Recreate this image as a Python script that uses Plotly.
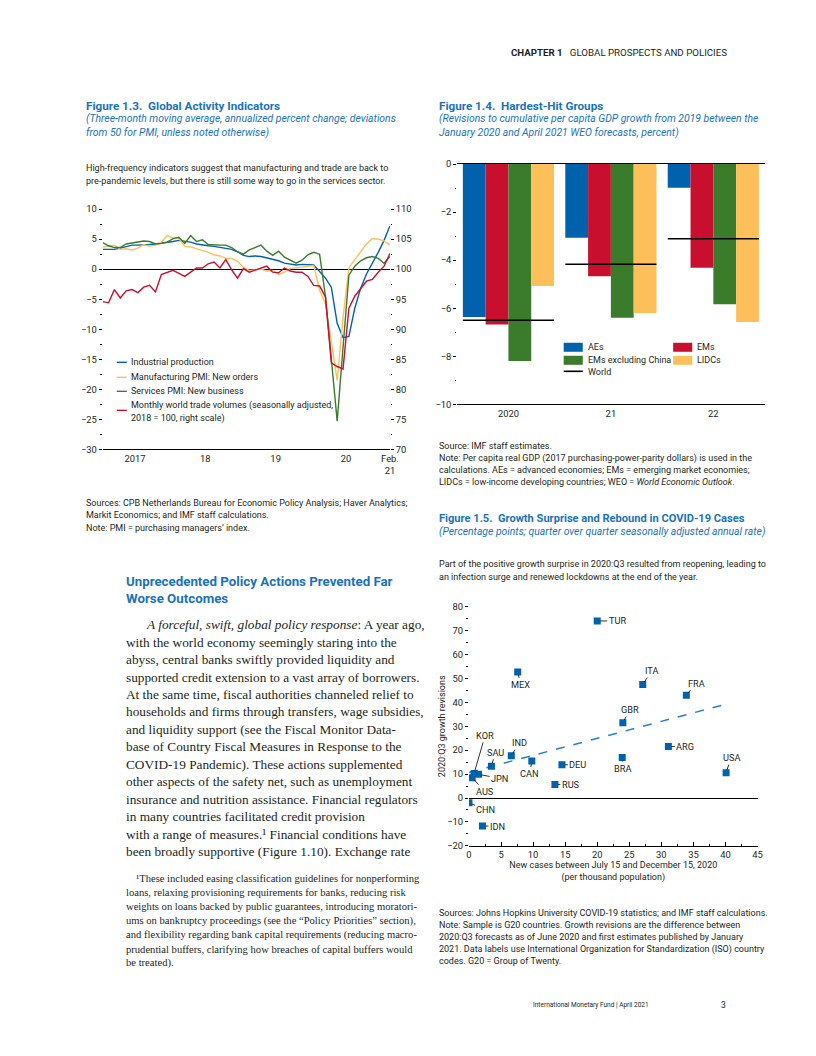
import plotly.graph_objects as go

# Page = figure + 8px body margin (816x1056 window). The photographed picture maps
# page coordinates as picture = 0.981*(page+8) horizontally and 0.985*(page+8)
# vertically, so reference pixel positions are converted back to page coordinates.
OFF = 8
W, H = 816 - 2 * OFF, 1056 - 2 * OFF
SXF, SYF = 816 / 832, 1056 / 1072


def X(px):
    page = px / SXF - OFF
    return (page - OFF) / W


def Y(py):
    py = py + 1.5 - 3.0 * (py - 53) / 951
    page = py / SYF - OFF
    return 1 - (page - OFF) / H


SANS = "Roboto, Liberation Sans, sans-serif"
SERIF = "Liberation Serif, DejaVu Serif, serif"
BLUE = "#0062AD"
RED = "#C8102E"
GREEN = "#3A7B2C"
YELLOW = "#FDBF5A"
TITLE = "#1A73BA"
INK = "#231F20"

# ---------------- Figure 1.3 data (monthly, Jan 2017 .. Feb 2021) ----------------
months = list(range(50))
industrial = [3.3, 3.3, 3.3, 3.5, 3.8, 4.0, 4.0, 4.0, 4.1, 4.2,
              4.3, 4.4, 4.6, 4.8, 4.7, 4.5, 4.2, 4.0, 3.9, 3.8,
              3.6, 3.5, 3.3, 2.9, 2.3, 2.1, 2.2, 2.1, 1.9, 1.7,
              1.4, 1.0, 0.8, 0.7, 0.8, 0.8, 0.7, -0.4, -1.5, -3.0,
              -9.0, -11.4, -11.2, -6.5, -3.2, -0.8, 0.9, 2.8, 4.8, 7.2]
mfg_pmi = [3.7, 3.9, 4.0, 3.3, 3.4, 3.2, 3.5, 4.1, 3.8, 4.0,
           4.5, 5.6, 5.2, 5.1, 3.8, 3.7, 3.4, 3.2, 2.8, 2.4,
           2.2, 1.8, 1.8, 1.3, 0.3, -0.2, -0.1, 0.0, -0.3, -0.2,
           -0.9, -0.5, 0.1, 0.2, 0.4, 0.4, 0.6, -3.5, -5.8, -12.0,
           -18.5, -8.0, 0.2, 1.6, 2.8, 4.2, 5.1, 5.0, 4.7, 4.0]
services_pmi = [4.4, 3.9, 3.6, 3.6, 4.2, 4.4, 4.5, 4.7, 4.6, 4.2,
                4.3, 4.5, 5.1, 5.3, 4.3, 5.6, 4.6, 4.9, 4.1, 4.0,
                4.0, 4.0, 3.6, 2.9, 2.5, 3.2, 3.6, 4.0, 3.0, 2.3,
                3.0, 2.0, 1.5, 1.0, 1.5, 2.4, 2.8, 2.5, -4.5, -15.6,
                -25.3, -13.0, -1.0, 0.5, 1.4, 1.9, 2.1, 1.8, 1.0, 2.1]
trade = [94.6, 94.4, 96.6, 95.2, 96.4, 96.6, 96.1, 97.0, 97.3, 96.2,
         99.1, 99.4, 99.8, 99.3, 98.8, 99.5, 100.2, 100.2, 100.9, 101.2,
         100.2, 101.6, 99.9, 98.5, 100.1, 99.5, 99.8, 100.2, 100.5, 99.5,
         99.4, 100.2, 99.7, 99.5, 99.5, 98.8, 97.3, 97.2, 95.4, 84.4,
         83.8, 83.4, 93.5, 95.5, 96.8, 98.0, 98.3, 99.5, 100.5, 102.6]
year_labels = ["2017", "18", "19", "20", "Feb.<br>21"]
year_label_months = [5.5, 17.5, 29.5, 41.5, 49]
year_tick_months = [12, 24, 36, 49]
series13_names = ["Industrial production", "Manufacturing PMI: New orders",
                  "Services PMI: New business",
                  "Monthly world trade volumes (seasonally adjusted,<br>2018 = 100, right scale)"]

# ---------------- Figure 1.4 data ----------------
groups = ["2020", "21", "22"]
aes = [-6.36, -3.07, -0.99]
ems = [-6.68, -4.67, -4.32]
ems_ex_china = [-8.2, -6.4, -5.83]
lidcs = [-5.07, -6.2, -6.57]
world = [-6.5, -4.17, -3.11]

# ---------------- Figure 1.5 data ----------------
countries = ["TUR", "MEX", "ITA", "FRA", "GBR", "ARG", "BRA", "USA", "DEU",
             "RUS", "CAN", "IND", "SAU", "KOR", "JPN", "AUS", "CHN", "IDN"]
new_cases = [20.0, 7.6, 27.1, 33.9, 24.0, 31.1, 23.9, 40.1, 14.5,
             13.4, 9.8, 6.6, 3.5, 0.8, 1.5, 0.5, 0.0, 2.1]
growth_rev = [74.0, 52.7, 47.4, 43.0, 31.5, 21.5, 16.9, 10.6, 13.9,
              5.7, 15.5, 17.7, 13.3, 10.3, 9.9, 8.5, -2.0, -11.7]
trend_x = [0.0, 40.2]
trend_y = [10.7, 39.3]

fig = go.Figure()

# ---- Figure 1.3 traces
fig.add_trace(go.Scatter(x=months, y=industrial, mode="lines", line=dict(color=BLUE, width=1.4),
                         xaxis="x", yaxis="y", name=series13_names[0], showlegend=False))
fig.add_trace(go.Scatter(x=months, y=mfg_pmi, mode="lines", line=dict(color=YELLOW, width=1.4),
                         xaxis="x", yaxis="y", name=series13_names[1], showlegend=False))
fig.add_trace(go.Scatter(x=months, y=services_pmi, mode="lines", line=dict(color=GREEN, width=1.4),
                         xaxis="x", yaxis="y", name=series13_names[2], showlegend=False))
fig.add_trace(go.Scatter(x=months, y=trade, mode="lines", line=dict(color=RED, width=1.4),
                         xaxis="x", yaxis="y2", name=series13_names[3], showlegend=False))

# ---- Figure 1.4 traces
gidx = list(range(len(groups)))
for vals, col, nm in [(aes, BLUE, "AEs"), (ems, RED, "EMs"),
                      (ems_ex_china, GREEN, "EMs excluding China"), (lidcs, YELLOW, "LIDCs")]:
    fig.add_trace(go.Bar(x=gidx, y=vals, marker=dict(color=col, line=dict(width=0)),
                         xaxis="x3", yaxis="y3", name=nm, showlegend=False))
wx, wy = [], []
half = 0.445
for i, v in zip(gidx, world):
    wx += [i - half, i + half, None]
    wy += [v, v, None]
fig.add_trace(go.Scatter(x=wx, y=wy, mode="lines", line=dict(color="black", width=1.6),
                         xaxis="x3", yaxis="y3", name="World", showlegend=False))

# ---- Figure 1.5 traces
fig.add_trace(go.Scatter(x=trend_x, y=trend_y, mode="lines",
                         line=dict(color="#2A7FCC", width=1.5, dash="dash"),
                         xaxis="x5", yaxis="y5", showlegend=False))
fig.add_trace(go.Scatter(x=new_cases, y=growth_rev, mode="markers",
                         marker=dict(symbol="square", size=7, color=BLUE),
                         xaxis="x5", yaxis="y5", text=countries, showlegend=False))

tickfont = dict(family=SANS, size=9.4, color=INK)
CH = 9.0  # chart text size

fig.update_layout(
    width=W, height=H, margin=dict(l=0, r=0, t=0, b=0),
    paper_bgcolor="white", plot_bgcolor="rgba(0,0,0,0)",
    font=dict(family=SANS, size=CH, color=INK),
    barmode="group", bargap=0.11, bargroupgap=0,
    # Figure 1.3 axes
    xaxis=dict(domain=[X(107), X(393)], range=[0, 49], anchor="y",
               tickmode="array", tickvals=year_label_months, ticktext=year_labels,
               ticks="", showline=True, linecolor="black", linewidth=1,
               showgrid=False, zeroline=False, tickfont=tickfont),
    xaxis2=dict(domain=[X(107), X(393)], range=[0, 49], anchor="y", overlaying="x",
                tickmode="array", tickvals=year_tick_months, ticks="inside", ticklen=5,
                tickcolor="black", showticklabels=False, showline=False, showgrid=False,
                zeroline=False),
    yaxis=dict(domain=[Y(449), Y(209)], range=[-30, 10], anchor="x",
               tick0=0, dtick=5, ticks="outside", ticklen=3, tickcolor="black",
               minor=dict(ticks="outside", ticklen=1.5, dtick=2.5, tick0=0, tickcolor="black"),
               showgrid=False, zeroline=True, zerolinecolor="black", zerolinewidth=1.3,
               showline=False, tickfont=tickfont),
    yaxis2=dict(domain=[Y(449), Y(209)], range=[70, 110], anchor="x", overlaying="y",
                side="right", tick0=70, dtick=5, ticks="outside", ticklen=3, tickcolor="black",
                minor=dict(ticks="outside", ticklen=1.5, dtick=2.5, tick0=70, tickcolor="black"),
                showgrid=False, zeroline=False, showline=False, tickfont=tickfont),
    # Figure 1.4 axes
    xaxis3=dict(domain=[X(460), X(766)], range=[-0.5, 2.5], anchor="y3",
                tickmode="array", tickvals=gidx, ticktext=groups, ticks="",
                showline=True, mirror=True, linecolor="black", linewidth=1.3,
                showgrid=False, zeroline=False, tickfont=tickfont),
    xaxis4=dict(domain=[X(460), X(766)], range=[-0.5, 2.5], anchor="y3", overlaying="x3",
                tickmode="array", tickvals=[0.5, 1.5], ticks="inside", ticklen=5,
                tickcolor="black", showticklabels=False, showline=False, showgrid=False,
                zeroline=False),
    yaxis3=dict(domain=[Y(404), Y(164)], range=[-10, 0], anchor="x3",
                tick0=0, dtick=2, ticks="outside", ticklen=3, tickcolor="black",
                minor=dict(ticks="outside", ticklen=1.5, dtick=1, tick0=0, tickcolor="black"),
                showgrid=False, zeroline=False, showline=False, tickfont=tickfont),
    yaxis4=dict(domain=[Y(404), Y(164)], range=[-10, 0], anchor="x3", overlaying="y3",
                side="right", tick0=0, dtick=2, ticks="outside", ticklen=3, tickcolor="black",
                minor=dict(ticks="outside", ticklen=1.5, dtick=1, tick0=0, tickcolor="black"),
                showticklabels=False, showgrid=False, zeroline=False, showline=False),
    # Figure 1.5 axes
    xaxis5=dict(domain=[X(471.7), X(759)], range=[0, 45], anchor="y5",
                tick0=0, dtick=5, ticks="inside", ticklen=4, tickcolor="black",
                minor=dict(ticks="inside", ticklen=2, dtick=2.5, tick0=0, tickcolor="black"),
                showline=True, linecolor="black", linewidth=1, showgrid=False, zeroline=False,
                tickfont=tickfont,
                title=dict(text="New cases between July 15 and December 15, 2020<br>(per thousand population)",
                           font=dict(family=SANS, size=CH, color=INK), standoff=2)),
    yaxis5=dict(domain=[Y(845), Y(606)], range=[-20, 80], anchor="x5",
                tick0=0, dtick=10, ticks="outside", ticklen=3, tickcolor="black",
                minor=dict(ticks="outside", ticklen=1.5, dtick=5, tick0=0, tickcolor="black"),
                showgrid=False, zeroline=True, zerolinecolor="black", zerolinewidth=1.2,
                showline=False, tickfont=tickfont,
                title=dict(text="2020:Q3 growth revisions",
                           font=dict(family=SANS, size=CH, color=INK), standoff=0)),
    yaxis6=dict(domain=[Y(845), Y(606)], range=[-20, 80], anchor="x5", overlaying="y5",
                side="right", tick0=0, dtick=10, ticks="outside", ticklen=4, tickcolor="black",
                minor=dict(ticks="outside", ticklen=2, dtick=5, tick0=0, tickcolor="black"),
                showticklabels=False, showgrid=False, zeroline=False, showline=False),
)

ann = []
shapes = []


def txt(px, py, text, size=CH, color=INK, family=SANS, xanchor="left"):
    ann.append(dict(x=X(px), y=Y(py), xref="paper", yref="paper", text=text,
                    showarrow=False, xanchor=xanchor, yanchor="middle",
                    font=dict(family=family, size=size, color=color)))


TS = 11.7   # figure title size
SS = 10.4   # subtitle size

# Header & footer
txt(731, 53, "<b>CHAPTER 1</b>   GLOBAL PROSPECTS AND POLICIES", size=9.7, xanchor="right")
txt(533, 1004, "International Monetary Fund | April 2021", size=6.5)
txt(730, 1004, "3", size=8.5, xanchor="right")

# Figure 1.3 text
txt(88, 106, "<b>Figure 1.3.  Global Activity Indicators</b>", size=TS, color=TITLE)
txt(88, 119, "<i>(Three-month moving average, annualized percent change; deviations</i>", size=SS, color=TITLE)
txt(88, 132, "<i>from 50 for PMI, unless noted otherwise)</i>", size=SS, color=TITLE)
txt(88, 168, "High-frequency indicators suggest that manufacturing and trade are back to", size=CH)
txt(88, 181, "pre-pandemic levels, but there is still some way to go in the services sector.", size=CH)
txt(88, 503, "Sources: CPB Netherlands Bureau for Economic Policy Analysis; Haver Analytics;", size=CH)
txt(88, 515, "Markit Economics; and IMF staff calculations.", size=CH)
txt(88, 527, "Note: PMI = purchasing managers’ index.", size=CH)

# Figure 1.3 legend (manual)
leg13 = [(362, BLUE, series13_names[0]), (377, YELLOW, series13_names[1]),
         (391, GREEN, series13_names[2])]
for py, col, nm in leg13:
    shapes.append(dict(type="line", xref="paper", yref="paper", x0=X(121), x1=X(131),
                       y0=Y(py), y1=Y(py), line=dict(color=col, width=1.4)))
    txt(133, py, nm, size=CH)
shapes.append(dict(type="line", xref="paper", yref="paper", x0=X(121), x1=X(131),
                   y0=Y(410), y1=Y(410), line=dict(color=RED, width=1.4)))
txt(133, 405, "Monthly world trade volumes (seasonally adjusted,", size=CH)
txt(133, 418, "2018 = 100, right scale)", size=CH)

# Section heading and body
txt(128, 581, "<b>Unprecedented Policy Actions Prevented Far</b>", size=13.3, color=TITLE)
txt(128, 598, "<b>Worse Outcomes</b>", size=13.3, color=TITLE)
body = [
    "<i>A forceful, swift, global policy response</i>: A year ago,",
    "with the world economy seemingly staring into the",
    "abyss, central banks swiftly provided liquidity and",
    "supported credit extension to a vast array of borrowers.",
    "At the same time, fiscal authorities channeled relief to",
    "households and firms through transfers, wage subsidies,",
    "and liquidity support (see the Fiscal Monitor Data-",
    "base of Country Fiscal Measures in Response to the",
    "COVID-19 Pandemic). These actions supplemented",
    "other aspects of the safety net, such as unemployment",
    "insurance and nutrition assistance. Financial regulators",
    "in many countries facilitated credit provision",
    "with a range of measures.¹ Financial conditions have",
    "been broadly supportive (Figure 1.10). Exchange rate",
]
for i, line in enumerate(body):
    txt(148 if i == 0 else 128, 624 + i * 17.45, line, size=13.3, family=SERIF)
foot = [
    "¹These included easing classification guidelines for nonperforming",
    "loans, relaxing provisioning requirements for banks, reducing risk",
    "weights on loans backed by public guarantees, introducing moratori-",
    "ums on bankruptcy proceedings (see the “Policy Priorities” section),",
    "and flexibility regarding bank capital requirements (reducing macro-",
    "prudential buffers, clarifying how breaches of capital buffers would",
    "be treated).",
]
for i, line in enumerate(foot):
    txt(138 if i == 0 else 128, 878 + i * 14, line, size=10.6, family=SERIF)

# Figure 1.4 text
txt(440, 106, "<b>Figure 1.4.  Hardest-Hit Groups</b>", size=TS, color=TITLE)
txt(440, 119, "<i>(Revisions to cumulative per capita GDP growth from 2019 between the</i>", size=SS, color=TITLE)
txt(440, 132, "<i>January 2020 and April 2021 WEO forecasts, percent)</i>", size=SS, color=TITLE)
txt(440, 446, "Source: IMF staff estimates.", size=CH)
txt(440, 458, "Note: Per capita real GDP (2017 purchasing-power-parity dollars) is used in the", size=CH)
txt(440, 470, "calculations. AEs = advanced economies; EMs = emerging market economies;", size=CH)
txt(440, 482, "LIDCs = low-income developing countries; WEO = <i>World Economic Outlook</i>.", size=CH)

# Figure 1.4 legend (manual)
for (px, py, col, nm) in [(566, 347, BLUE, "AEs"), (675, 347, RED, "EMs"),
                          (566, 360, GREEN, "EMs excluding China"), (675, 360, YELLOW, "LIDCs")]:
    shapes.append(dict(type="rect", xref="paper", yref="paper", x0=X(px), x1=X(px + 19),
                       y0=Y(py - 4.5), y1=Y(py + 4.5), line=dict(width=0), fillcolor=col))
    txt(px + 22, py, nm, size=CH)
shapes.append(dict(type="line", xref="paper", yref="paper", x0=X(566), x1=X(585),
                   y0=Y(371), y1=Y(371), line=dict(color="black", width=1.6)))
txt(588, 372, "World", size=CH)

# Figure 1.5 text
txt(440, 518, "<b>Figure 1.5.  Growth Surprise and Rebound in COVID-19 Cases</b>", size=11.1, color=TITLE)
txt(440, 531, "<i>(Percentage points; quarter over quarter seasonally adjusted annual rate)</i>", size=SS, color=TITLE)
txt(440, 563, "Part of the positive growth surprise in 2020:Q3 resulted from reopening, leading to", size=CH)
txt(440, 576, "an infection surge and renewed lockdowns at the end of the year.", size=CH)
src15 = [
    "Sources: Johns Hopkins University COVID-19 statistics; and IMF staff calculations.",
    "Note: Sample is G20 countries. Growth revisions are the difference between",
    "2020:Q3 forecasts as of June 2020 and first estimates published by January",
    "2021. Data labels use International Organization for Standardization (ISO) country",
    "codes. G20 = Group of Twenty.",
]
for i, line in enumerate(src15):
    txt(440, 912 + i * 12, line, size=CH)

# Figure 1.5 point labels with leader lines (offsets in pixels)
label_offsets = {
    "TUR": (20, 0), "MEX": (3, 13), "ITA": (9, -14), "FRA": (10, -12), "GBR": (7, -13),
    "ARG": (17, 0), "BRA": (0, 11), "USA": (5, -15), "DEU": (16, 0), "RUS": (16, 0),
    "CAN": (-2, 13), "IND": (8, -13), "SAU": (4, -14), "KOR": (11, -38), "JPN": (21, 4),
    "AUS": (13, 14), "CHN": (17, 7), "IDN": (15, 0),
}
for c, xv, yv in zip(countries, new_cases, growth_rev):
    ax, ay = label_offsets[c]
    ann.append(dict(x=xv, y=yv, xref="x5", yref="y5", text=c, showarrow=True,
                    arrowhead=0, arrowwidth=0.8, arrowcolor="black", ax=ax, ay=ay,
                    standoff=3, startstandoff=0,
                    font=dict(family=SANS, size=9.2, color=INK)))

fig.update_layout(annotations=ann, shapes=shapes)
fig.write_html("out.html", config={"displayModeBar": False})
